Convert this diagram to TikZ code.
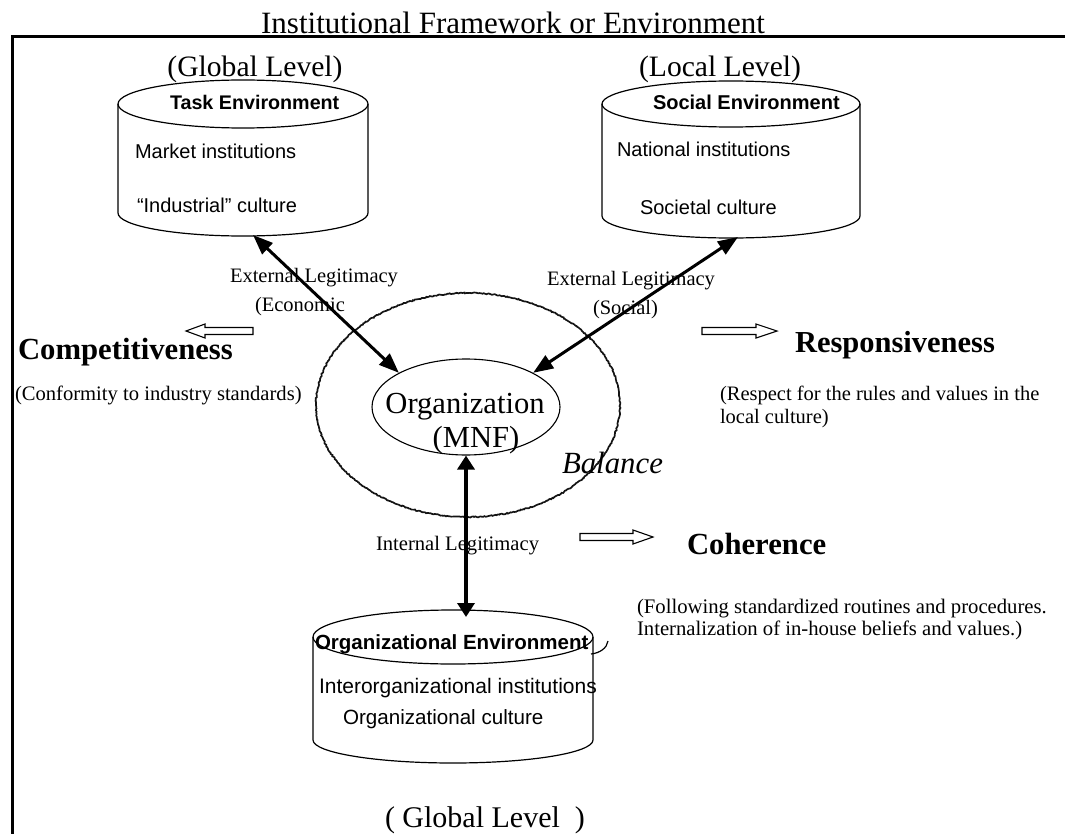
\documentclass[tikz,border=0pt]{standalone}
\usepackage{fontspec}
\setmainfont{Liberation Serif}
\newfontfamily\arialf{Liberation Sans}
\usetikzlibrary{arrows.meta,shapes.geometric,decorations.pathmorphing}
\newcommand\setfs[1]{\fontsize{#1pt}{#1pt}\selectfont}
\begin{document}
\begin{tikzpicture}[x=1pt,y=-1pt,
  txt/.style={inner sep=0pt, outer sep=0pt, anchor=base west},
  txtc/.style={inner sep=0pt, outer sep=0pt, anchor=base},
  cyl/.style={line width=1.2pt},
  dbl/.style={line width=3pt, {Triangle[length=20pt,width=15pt]}-{Triangle[length=20pt,width=15pt]}},
  vdbl/.style={line width=4pt, {Triangle[length=14pt,width=17pt]}-{Triangle[length=14pt,width=17pt]}},
  hollow/.style={line width=1.1pt, fill=white, line join=miter},
  rough/.style={line width=1.7pt, black!92, decorate, decoration={random steps, segment length=1.3pt, amplitude=0.55pt}},
  sansn/.style={font=\arialf\setfs{20}},
]
\useasboundingbox (0,0) rectangle (1065,834);
% frame
\draw[line width=3.5pt] (12.5,834) -- (12.5,36.5) -- (1065,36.5);
\node[txtc] (title) at (513,34) {\setfs{31}Institutional Framework or Environment};

% level labels
\node[txtc] (glob1) at (255,77) {\setfs{29.6}(Global Level)};
\node[txtc] (loc1) at (720,77) {\setfs{29.6}(Local Level)};
\node[txt] (glob2) at (385,827) {\setfs{30}( Global Level\ \ )};

% task environment cylinder
\draw[cyl] (118,104) -- (118,213) arc[start angle=180,end angle=360,x radius=125pt,y radius=23pt] -- (368,104);
\draw[cyl] (243,104) ellipse[x radius=125pt, y radius=24pt];
\node[txt] (te) at (170,110) {\arialf\bfseries\setfs{19.7}Task Environment};
\node[txt,sansn] (te1) at (135,159) {Market institutions};
\node[txt,sansn] (te2) at (137,213) {“Industrial” culture};
\coordinate (teB) at (253,235);

% social environment cylinder
\draw[cyl] (602,104) -- (602,216) arc[start angle=180,end angle=360,x radius=129pt,y radius=22pt] -- (860,104);
\draw[cyl] (731,104) ellipse[x radius=129pt, y radius=23pt];
\node[txt] (se) at (653,110) {\arialf\bfseries\setfs{20}Social Environment};
\node[txt,sansn] (se1) at (617,157) {National institutions};
\node[txt,sansn] (se2) at (640,215) {Societal culture};
\coordinate (seB) at (738,237);

% organizational environment cylinder
\draw[cyl] (313,637) -- (313,740) arc[start angle=180,end angle=360,x radius=140pt,y radius=23pt] -- (593,637);
\draw[cyl] (453,637) ellipse[x radius=140pt, y radius=27pt];
\draw[cyl] (591,654) .. controls (600,653) and (607,648) .. (608,641);
\node[txt] (oe) at (315,649) {\arialf\bfseries\setfs{20.5}Organizational Environment};
\node[txt] (oe1) at (319,693) {\arialf\setfs{21}Interorganizational institutions};
\node[txt] (oe2) at (343,724) {\arialf\setfs{20.6}Organizational culture};
\coordinate (oeT) at (466,617);

% balance ellipse and organization
\draw[rough] (468,405) ellipse[x radius=152pt, y radius=112pt];
\node[draw, ellipse, line width=1.1pt, minimum width=188pt, minimum height=96pt, inner sep=0pt] (org) at (466,407) {};
\node[txtc] (orgA) at (465,413) {\setfs{30.6}Organization};
\node[txtc] (orgB) at (476,447) {\setfs{30.6}(MNF)};
\node[txt] (bal) at (562,473) {\itshape\setfs{30.8}Balance};

% connectors
\draw[dbl] (teB) -- (org.153);
\draw[dbl] (seB) -- (org.27);
\draw[vdbl] (org.south) -- (oeT);

% connector labels
\node[txt] (el1) at (230,283) {\setfs{20.5}External Legitimacy};
\node[txt] (el1b) at (255,312) {\setfs{20.5}(Economic};
\node[txt] (el2) at (547,285) {\setfs{20.5}External Legitimacy};
\node[txt] (el2b) at (593,314) {\setfs{20.5}(Social)};
\node[txt] (il) at (376,550) {\setfs{20.6}Internal Legitimacy};

% hollow arrows
\draw[hollow] (253,327.5) -- (205,327.5) -- (205,324) -- (186,331) -- (205,338) -- (205,334.5) -- (253,334.5) -- cycle;
\draw[hollow] (702,327.5) -- (756,327.5) -- (756,324) -- (777,331) -- (756,338) -- (756,334.5) -- (702,334.5) -- cycle;
\draw[hollow] (580,533.5) -- (633,533.5) -- (633,530) -- (653,537) -- (633,544) -- (633,540.5) -- (580,540.5) -- cycle;

% outcomes
\node[txt] (comp) at (18,359) {\bfseries\setfs{30.7}Competitiveness};
\node[txt] (comp1) at (15,400) {\setfs{20.6}(Conformity to industry standards)};
\node[txt] (resp) at (795,352) {\bfseries\setfs{30.5}Responsiveness};
\node[txt] (resp1) at (720,400) {\setfs{20.5}(Respect for the rules and values in the};
\node[txt] (resp2) at (720,423) {\setfs{20.5}local culture)};
\node[txt] (coh) at (687,554) {\bfseries\setfs{30.7}Coherence};
\node[txt] (coh1) at (637,613) {\setfs{20.7}(Following standardized routines and procedures.};
\node[txt] (coh2) at (637,635) {\setfs{20.7}Internalization of in-house beliefs and values.)};
\end{tikzpicture}
\end{document}
